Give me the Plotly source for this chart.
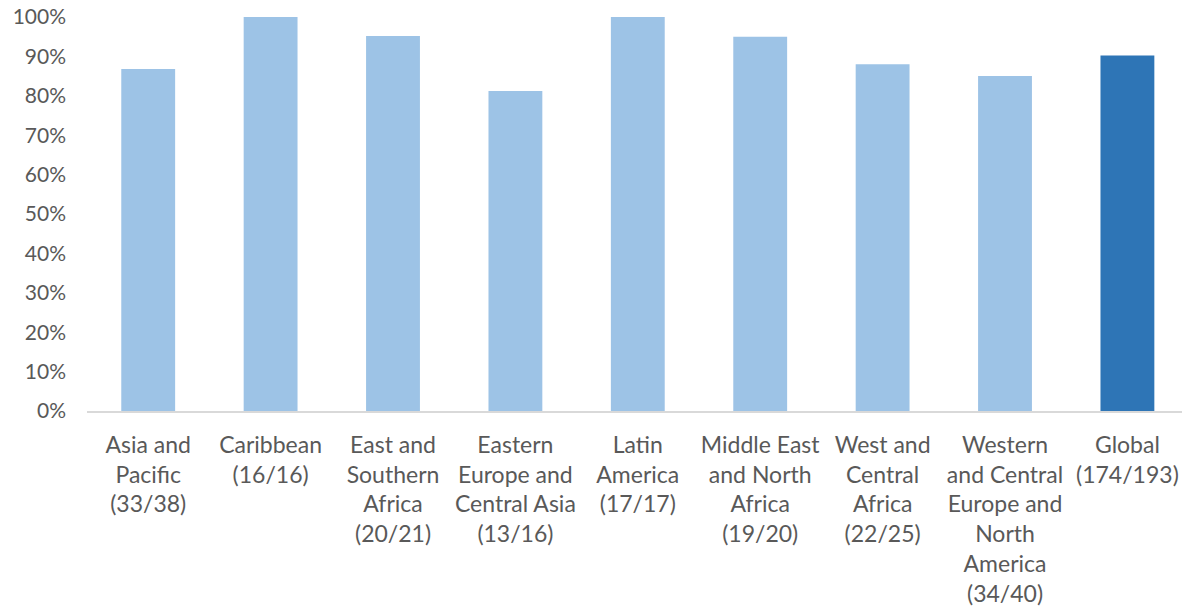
import plotly.graph_objects as go

categories = [
    "Asia and<br>Pacific<br>(33/38)",
    "Caribbean<br>(16/16)",
    "East and<br>Southern<br>Africa<br>(20/21)",
    "Eastern<br>Europe and<br>Central Asia<br>(13/16)",
    "Latin<br>America<br>(17/17)",
    "Middle East<br>and North<br>Africa<br>(19/20)",
    "West and<br>Central<br>Africa<br>(22/25)",
    "Western<br>and Central<br>Europe and<br>North<br>America<br>(34/40)",
    "Global<br>(174/193)",
]
values = [0.868, 1.0, 0.952, 0.8125, 1.0, 0.95, 0.88, 0.85, 0.902]
colors = ["#9DC3E6"] * 8 + ["#2E75B6"]
tick_vals = [i / 10 for i in range(11)]
tick_text = [f"{i*10}%" for i in range(11)]

fig = go.Figure(go.Bar(
    x=list(range(len(categories))),
    y=values,
    marker=dict(color=colors, line=dict(width=0)),
    width=0.44,
))

fig.update_layout(
    width=1182, height=610,
    margin=dict(l=87, r=0, t=17, b=199, autoexpand=False),
    paper_bgcolor="white", plot_bgcolor="white",
    font=dict(family="Lato, Carlito, sans-serif", size=21, color="#595959"),
    showlegend=False,
)
fig.update_xaxes(
    range=[-0.5, 8.446], automargin=False,
    tickmode="array", tickvals=list(range(len(categories))), ticktext=categories,
    tickfont=dict(size=23),
    showline=True, linecolor="#D9D9D9", linewidth=2,
    showgrid=False, ticks="", tickangle=0, ticklabelstandoff=12,
)
fig.update_yaxes(
    range=[0, 1], automargin=False,
    tickmode="array", tickvals=tick_vals, ticktext=tick_text,
    showgrid=False, zeroline=False, showline=False, ticks="",
    ticklabelstandoff=20,
)
fig.write_html(
    "out.html",
    config={"displayModeBar": False},
    post_script="document.body.style.margin='0px'; document.body.style.overflow='hidden';",
)
